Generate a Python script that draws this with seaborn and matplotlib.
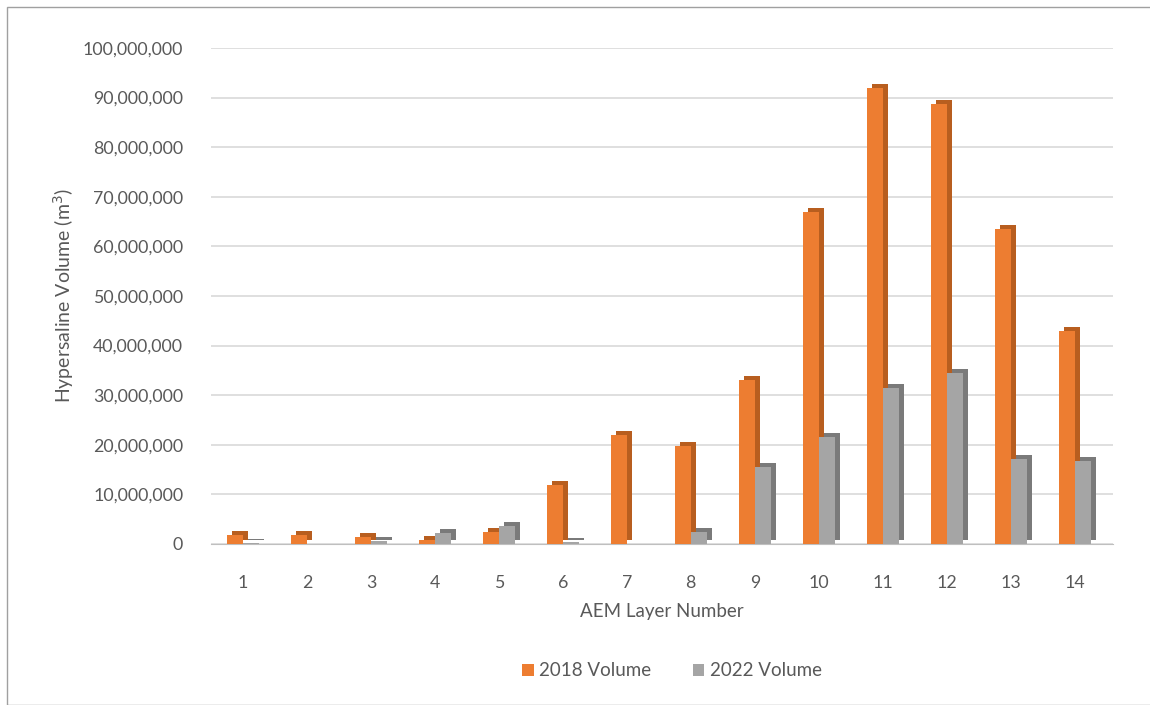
import numpy as np
import pandas as pd
import matplotlib
matplotlib.use('Agg')
import matplotlib.pyplot as plt
import matplotlib.transforms as mtransforms
from matplotlib.patches import Rectangle
from matplotlib.ticker import FuncFormatter
import seaborn as sns

# data
layers = [1, 2, 3, 4, 5, 6, 7, 8, 9, 10, 11, 12, 13, 14]
vol_2018 = [1.8e6, 1.9e6, 1.5e6, 0.9e6, 2.4e6, 11.8e6, 22.0e6, 19.8e6, 33.0e6, 67.0e6, 92.0e6, 88.8e6, 63.5e6, 43.0e6]
vol_2022 = [0.15e6, 0.1e6, 0.7e6, 2.3e6, 3.6e6, 0.5e6, 0.1e6, 2.4e6, 15.5e6, 21.6e6, 31.5e6, 34.5e6, 17.2e6, 16.8e6]
series = ['2018 Volume', '2022 Volume']
colors = ['#ED7D31', '#A5A5A5']
side_colors = ['#B85E1F', '#7A7A7A']

df = pd.DataFrame({
    'layer': layers * 2,
    'volume': vol_2018 + vol_2022,
    'series': [series[0]] * len(layers) + [series[1]] * len(layers),
})

sns.set_style('white')
plt.rcParams['font.family'] = ['Lato', 'DejaVu Sans']
text_col = '#595959'

fig = plt.figure(figsize=(11.5, 7.05), dpi=100)
ax = fig.add_axes([211 / 1150, (705 - 544) / 705, (1113 - 211) / 1150, (544 - 48) / 705])

sns.barplot(data=df, x='layer', y='volume', hue='series', palette=colors,
            width=0.5, gap=0, saturation=1, ax=ax, legend=False, zorder=3,
            edgecolor='none', linewidth=0)

# fake 3D depth: darker copy of each bar shifted up/right, behind the front face
for i, p in enumerate(list(ax.patches)):
    k = 0 if i < len(layers) else 1
    off = mtransforms.offset_copy(ax.transData, fig=fig, x=5, y=4, units='dots')
    sh = Rectangle(p.get_xy(), p.get_width(), p.get_height(), transform=off,
                   facecolor=side_colors[k], edgecolor='none', linewidth=0, zorder=2.5)
    ax.add_patch(sh)

ax.set_ylim(0, 100e6)
ax.set_xlim(-0.5, 13.6)
ax.set_yticks(np.arange(0, 100e6 + 1, 10e6))
ax.yaxis.set_major_formatter(FuncFormatter(lambda v, pos: f'{v:,.0f}'))
ax.grid(axis='y', color='#D9D9D9', linewidth=1.2, zorder=0)
ax.set_axisbelow(True)
for s in ['top', 'right', 'left']:
    ax.spines[s].set_visible(False)
ax.spines['bottom'].set_color('#BFBFBF')
ax.tick_params(axis='both', length=0, labelsize=12.8, colors=text_col)
ax.tick_params(axis='y', pad=20)
ax.tick_params(axis='x', pad=22)

ax.set_xlabel('AEM Layer Number', fontsize=13.5, color=text_col, labelpad=9)
ax.set_ylabel('Hypersaline Volume (m$^3$)', fontsize=14, color=text_col, labelpad=5)

handles = [Rectangle((0, 0), 1, 1, facecolor=c, edgecolor='none') for c in colors]
fig.legend(handles, series, loc='center', bbox_to_anchor=(672 / 1150, 1 - 671 / 705),
           ncol=2, frameon=False, fontsize=13.5, handlelength=0.6, handleheight=0.6,
           handletextpad=0.3, columnspacing=2.2, labelcolor=text_col)

# outer frame
fig.patches.append(Rectangle((7 / 1150, 0), 1.2, 1 - 7 / 705, transform=fig.transFigure,
                             fill=False, edgecolor='#A0A0A0', linewidth=1))

fig.savefig('out.png', dpi=100)
